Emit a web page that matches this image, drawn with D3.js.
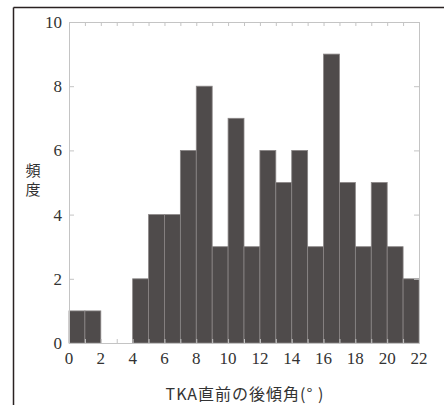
<!DOCTYPE html>
<html>
<head>
<meta charset="utf-8">
<script src="https://cdn.jsdelivr.net/npm/d3@7"></script>
<style>
  body { margin: 0; background: #fff; }
</style>
</head>
<body>
<script>
// bin starts (degrees), one bar per 1-degree bin
var binStarts = [0,1,2,3,4,5,6,7,8,9,10,11,12,13,14,15,16,17,18,19,20,21];
var counts    = [1,1,0,0,2,4,4,6,8,3,7,3,6,5,6,3,9,5,3,5,3,2];
var xTicks = [0,2,4,6,8,10,12,14,16,18,20,22];
var yTicks = [0,2,4,6,8,10];
var xLabel = "TKA直前の後傾角(°  )";
var yLabel = ["頻", "度"];

var W = 444, H = 405;
var margin = {top: 22, right: 25, bottom: 62, left: 69};
var width = W - margin.left - margin.right,
    height = H - margin.top - margin.bottom;
var serif = "'Liberation Serif', 'Times New Roman', serif";
var cjk = "'Noto Sans CJK JP', sans-serif";

var svg = d3.select("body").append("svg")
  .attr("width", W)
  .attr("height", H);

// outer frame (top and left edges only, as cropped in the figure)
svg.append("line").attr("x1", 13.5).attr("x2", W).attr("y1", 7.5).attr("y2", 7.5)
  .attr("stroke", "#2a2222").attr("stroke-width", 1.5);
svg.append("line").attr("x1", 13.5).attr("x2", 13.5).attr("y1", 7.5).attr("y2", H)
  .attr("stroke", "#2a2222").attr("stroke-width", 1.5);

var g = svg.append("g")
  .attr("transform", "translate(" + margin.left + "," + margin.top + ")");

var x = d3.scaleLinear().domain([0, 22]).range([0, width]);
var y = d3.scaleLinear().domain([0, 10]).range([height, 0]);

var axisColor = "#c4c4c4";

// bars
g.selectAll(".bar")
  .data(binStarts)
  .enter().append("rect")
  .attr("class", "bar")
  .attr("x", function(d) { return x(d); })
  .attr("width", function(d) { return x(d + 1) - x(d); })
  .attr("y", function(d, i) { return y(counts[i]); })
  .attr("height", function(d, i) { return height - y(counts[i]); })
  .attr("fill", "#4f4b4b")
  .attr("stroke", "#8a8686")
  .attr("stroke-width", 0.8);

// bottom axis
var axB = g.append("g")
  .attr("transform", "translate(0," + height + ")")
  .call(d3.axisBottom(x).tickValues(d3.range(0, 23)).tickSize(-4).tickSizeOuter(0).tickFormat(""));
axB.selectAll("line, path").attr("stroke", axisColor);

g.selectAll(".xlab")
  .data(xTicks)
  .enter().append("text")
  .attr("class", "xlab")
  .attr("x", function(d) { return x(d); })
  .attr("y", height + 21)
  .attr("text-anchor", "middle")
  .attr("font-size", 17)
  .attr("font-family", serif)
  .attr("fill", "#333")
  .text(function(d) { return d; });

// top axis
var axT = g.append("g")
  .call(d3.axisTop(x).tickValues(d3.range(0, 23)).tickSize(-4).tickSizeOuter(0).tickFormat(""));
axT.selectAll("line, path").attr("stroke", axisColor);

// left axis
var axL = g.append("g")
  .call(d3.axisLeft(y).tickValues(yTicks).tickSize(-5).tickSizeOuter(0).tickFormat(""));
axL.selectAll("line, path").attr("stroke", axisColor);

g.selectAll(".ylab")
  .data(yTicks)
  .enter().append("text")
  .attr("class", "ylab")
  .attr("x", -7)
  .attr("y", function(d) { return y(d) + 6; })
  .attr("text-anchor", "end")
  .attr("font-size", 17)
  .attr("font-family", serif)
  .attr("fill", "#333")
  .text(function(d) { return d; });

// right axis
var axR = g.append("g")
  .attr("transform", "translate(" + width + ",0)")
  .call(d3.axisRight(y).tickValues(yTicks).tickSize(-5).tickSizeOuter(0).tickFormat(""));
axR.selectAll("line, path").attr("stroke", axisColor);

// axis titles
svg.append("text")
  .attr("x", 245)
  .attr("y", 400)
  .attr("text-anchor", "middle")
  .attr("font-size", 16)
  .attr("letter-spacing", 1)
  .attr("fill", "#333")
  .attr("font-family", cjk)
  .text(xLabel);

// vertical y title, stacked characters
svg.append("text")
  .attr("x", 33)
  .attr("y", 163)
  .attr("font-size", 15)
  .attr("letter-spacing", 4)
  .attr("fill", "#333")
  .attr("font-family", cjk)
  .style("writing-mode", "vertical-rl")
  .style("text-orientation", "upright")
  .text(yLabel.join(""));
</script>
</body>
</html>
